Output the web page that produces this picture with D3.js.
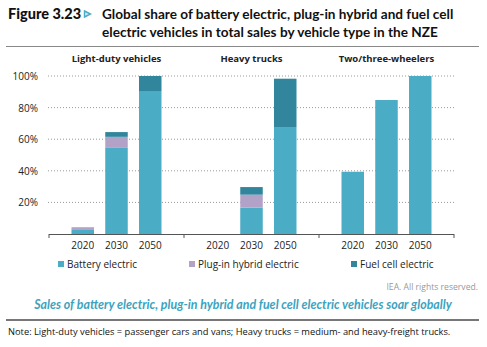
<!DOCTYPE html>
<html>
<head>
<meta charset="utf-8">
<script src="https://cdn.jsdelivr.net/npm/d3@7"></script>
<style>
  body { margin: 0; background: #fff; }
  svg { display: block; font-family: "Open Sans", "Liberation Sans", sans-serif; }
</style>
</head>
<body>
<div class="chart"></div>
<script>
// chart data
const panels = ['Light-duty vehicles', 'Heavy trucks', 'Two/three-wheelers'];
const years = ['2020', '2030', '2050'];
const seriesNames = ['Battery electric', 'Plug-in hybrid electric', 'Fuel cell electric'];
// values per panel, per year (%)
const batteryElectric = [[3, 54.5, 90.5], [0, 16.7, 67.7], [39.4, 84.8, 100]];
const plugInHybrid = [[1.3, 7, 0], [0, 8.2, 0], [0, 0, 0]];
const fuelCell = [[0, 3, 9.5], [0, 4.8, 30.6], [0, 0, 0]];
const yTicks = [20, 40, 60, 80, 100];

const colors = ['#4bacc6', '#b3a2c7', '#31859c'];

const width = 487;
const height = 347;
const margin = { top: 76, right: 33, bottom: 113, left: 49 };
const plotW = width - margin.left - margin.right;
const plotH = height - margin.top - margin.bottom;

const svg = d3
  .select('.chart')
  .append('svg')
  .attr('width', width)
  .attr('height', height);

// title block
const title = svg.append('g');
title
  .append('text')
  .attr('x', 8)
  .attr('y', 18.5)
  .attr('font-family', 'Lato, sans-serif')
  .attr('font-weight', 900)
  .attr('font-size', 14.5)
  .attr('fill', '#111')
  .text('Figure 3.23');
title
  .append('path')
  .attr('d', 'M84.5,11 L90.5,14 L84.5,17 Z')
  .attr('fill', '#cfe9f1')
  .attr('stroke', '#4bacc6')
  .attr('stroke-width', 1.4);
title
  .append('text')
  .attr('x', 102)
  .attr('y', 18.5)
  .attr('font-family', 'Lato, sans-serif')
  .attr('font-weight', 700)
  .attr('font-size', 13.6)
  .attr('fill', '#111')
  .text('Global share of battery electric, plug-in hybrid and fuel cell');
title
  .append('text')
  .attr('x', 102)
  .attr('y', 36.5)
  .attr('font-family', 'Lato, sans-serif')
  .attr('font-weight', 700)
  .attr('font-size', 13.6)
  .attr('fill', '#111')
  .text('electric vehicles in total sales by vehicle type in the NZE');
svg
  .append('line')
  .attr('x1', 6)
  .attr('x2', 479)
  .attr('y1', 46.5)
  .attr('y2', 46.5)
  .attr('stroke', '#888')
  .attr('stroke-width', 1);

const g = svg.append('g').attr('transform', `translate(${margin.left}, ${margin.top})`);

const yScale = d3.scaleLinear().domain([0, 100]).range([plotH, 0]);
const panelScale = d3.scaleBand().domain(panels).range([0, plotW]);
const yearScale = d3
  .scaleBand()
  .domain(years)
  .range([0, panelScale.bandwidth()])
  .paddingInner(1 / 3)
  .paddingOuter(2 / 3);

// grid lines
g.selectAll('.grid')
  .data(yTicks)
  .enter()
  .append('line')
  .attr('x1', -1)
  .attr('x2', plotW)
  .attr('y1', d => yScale(d))
  .attr('y2', d => yScale(d))
  .attr('stroke', '#999')
  .attr('stroke-width', 1)
  .attr('stroke-dasharray', '1,2');

// y labels
g.selectAll('.ylab')
  .data(yTicks)
  .enter()
  .append('text')
  .attr('x', -11)
  .attr('y', d => yScale(d) + 4)
  .attr('text-anchor', 'end')
  .attr('font-size', 10)
  .attr('fill', '#222')
  .text(d => d + '%');

// stacked bars
const stack = d3.stack().keys([0, 1, 2]);
panels.forEach((panel, pi) => {
  const rows = years.map((y, yi) => ({
    year: y,
    0: batteryElectric[pi][yi],
    1: plugInHybrid[pi][yi],
    2: fuelCell[pi][yi],
  }));
  const layers = stack(rows);
  const pg = g.append('g').attr('transform', `translate(${panelScale(panel)}, 0)`);
  layers.forEach((layer, li) => {
    pg.selectAll(null)
      .data(layer)
      .enter()
      .append('rect')
      .attr('x', d => yearScale(d.data.year))
      .attr('width', yearScale.bandwidth())
      .attr('y', d => yScale(d[1]))
      .attr('height', d => yScale(d[0]) - yScale(d[1]))
      .attr('fill', colors[li]);
  });
  pg.selectAll('.xlab')
    .data(years)
    .enter()
    .append('text')
    .attr('x', d => yearScale(d) + yearScale.bandwidth() / 2)
    .attr('y', plotH + 15)
    .attr('text-anchor', 'middle')
    .attr('font-size', 10)
    .attr('fill', '#222')
    .text(d => d);
  pg.append('text')
    .attr('x', panelScale.bandwidth() / 2)
    .attr('y', -14)
    .attr('text-anchor', 'middle')
    .attr('font-size', 9.5)
    .attr('font-weight', 700)
    .attr('fill', '#222')
    .text(panel);
});

// x axis with separators
g.append('line')
  .attr('x1', 0)
  .attr('x2', plotW)
  .attr('y1', plotH + 0.5)
  .attr('y2', plotH + 0.5)
  .attr('stroke', '#555')
  .attr('stroke-width', 1.2);
g.selectAll('.sep')
  .data(panels.concat(['end']))
  .enter()
  .append('line')
  .attr('x1', (d, i) => i * panelScale.step())
  .attr('x2', (d, i) => i * panelScale.step())
  .attr('y1', plotH)
  .attr('y2', plotH + 4)
  .attr('stroke', '#555')
  .attr('stroke-width', 1);

// legend
const legendX = [58, 189, 351];
const legend = svg
  .selectAll('.legend')
  .data(seriesNames)
  .enter()
  .append('g')
  .attr('transform', (d, i) => `translate(${legendX[i]}, 264)`);
legend
  .append('rect')
  .attr('x', 0)
  .attr('y', -3)
  .attr('width', 6)
  .attr('height', 6)
  .attr('fill', (d, i) => colors[i]);
legend
  .append('text')
  .attr('x', 9)
  .attr('y', 3.5)
  .attr('font-size', 10)
  .attr('fill', '#222')
  .text(d => d);

// footer
svg
  .append('text')
  .attr('x', 478)
  .attr('y', 290)
  .attr('text-anchor', 'end')
  .attr('font-size', 8.6)
  .attr('fill', '#999')
  .text('IEA. All rights reserved.');
svg
  .append('text')
  .attr('x', 243)
  .attr('y', 308.5)
  .attr('text-anchor', 'middle')
  .attr('font-family', 'Lato, sans-serif')
  .attr('font-size', 12.4)
  .attr('font-weight', 700)
  .attr('font-style', 'italic')
  .attr('fill', '#3ba3c0')
  .text('Sales of battery electric, plug-in hybrid and fuel cell electric vehicles soar globally');
svg
  .append('line')
  .attr('x1', 6)
  .attr('x2', 479)
  .attr('y1', 320)
  .attr('y2', 320)
  .attr('stroke', '#777')
  .attr('stroke-width', 2);
svg
  .append('text')
  .attr('x', 8)
  .attr('y', 335)
  .attr('font-size', 9.3)
  .attr('fill', '#111')
  .text('Note: Light-duty vehicles = passenger cars and vans; Heavy trucks = medium- and heavy-freight trucks.');
</script>
</body>
</html>
